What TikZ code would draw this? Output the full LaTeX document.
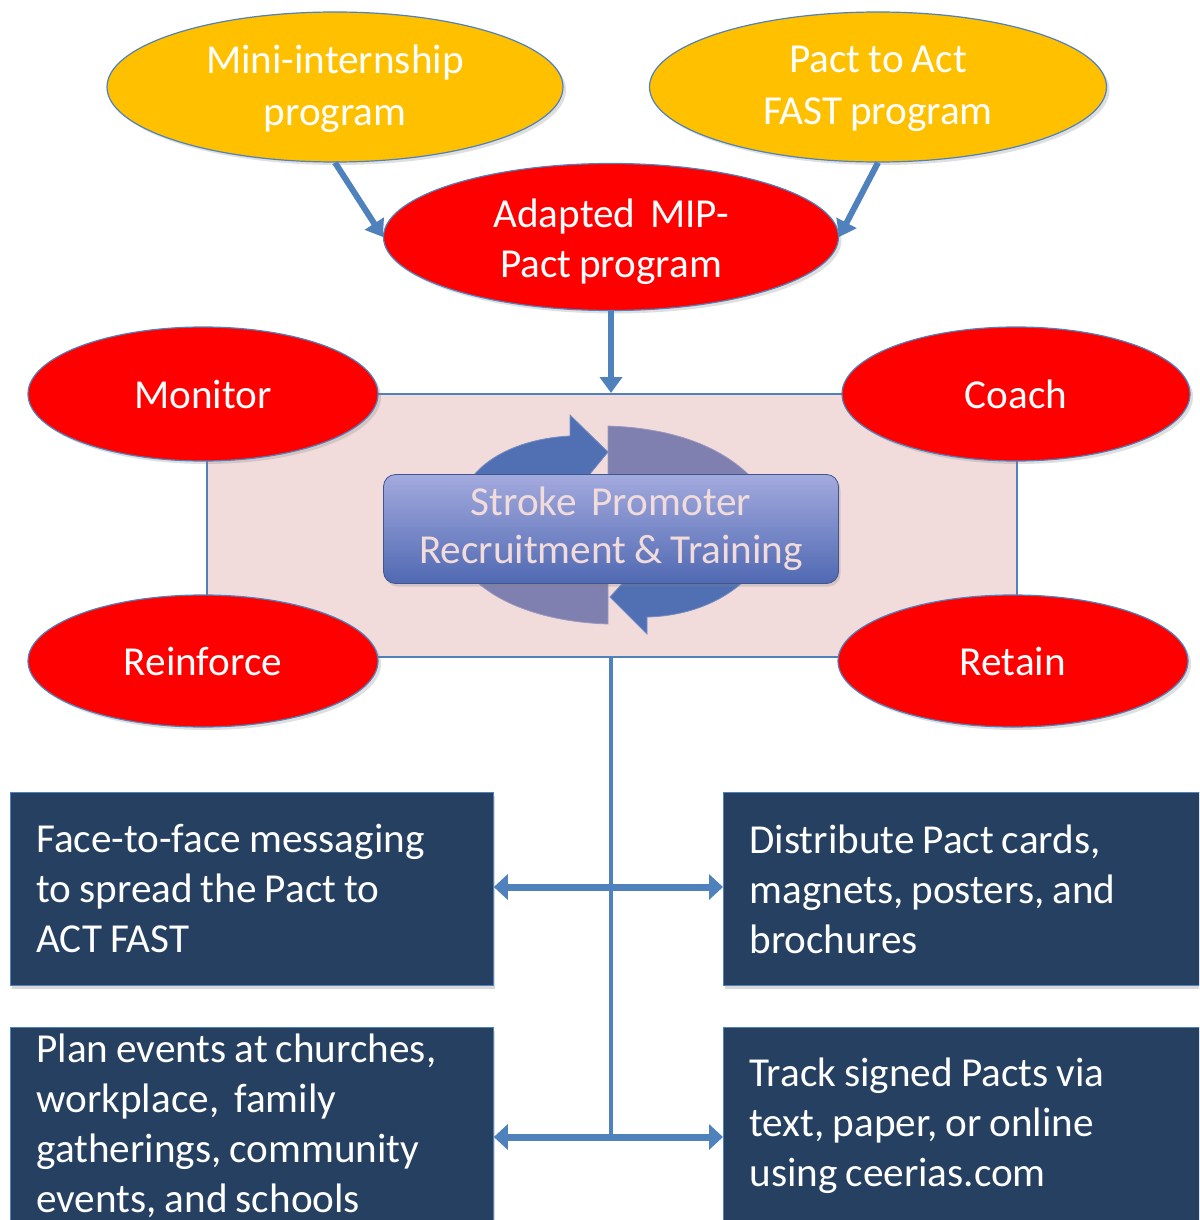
\documentclass[tikz,border=0pt]{standalone}
\usepackage{fontspec}
\setmainfont{Carlito}
\usetikzlibrary{shapes.geometric,arrows.meta,shadows}
\definecolor{gold}{HTML}{FFC000}
\definecolor{redfill}{HTML}{FF0000}
\definecolor{navy}{HTML}{254061}
\definecolor{lineblue}{HTML}{4F81BD}
\definecolor{pinkfill}{HTML}{F2DCDB}
\definecolor{cycblue}{HTML}{5170B4}
\definecolor{cycpurple}{HTML}{8080B0}
\definecolor{srttop}{HTML}{A3AADE}
\definecolor{srtbot}{HTML}{5069B2}
\definecolor{srttext}{HTML}{F2DCDB}
\newcommand\mytightsp{\spaceskip=4pt plus 1pt minus 0.5pt\relax}
\newcommand\myboxfont{\fontsize{20.6pt}{25pt}\selectfont}
\newcommand\myovalfont{\fontsize{20.6pt}{26pt}\selectfont}
\newcommand\mydn[2]{\raisebox{-#1}[\height][\depth]{#2}}
\tikzset{
  tight/.style={execute at begin node={\mytightsp}},
  txt/.style={font=\myboxfont, tight},
  otxt/.style={font=\myovalfont, tight},
  oval/.style={ellipse, draw=lineblue, line width=0.6pt, inner sep=0pt, text=white, otxt, align=center,
     drop shadow={opacity=0.25, shadow xshift=1.5pt, shadow yshift=-1.5pt}},
  yel/.style={oval, fill=gold},
  rd/.style={oval, fill=redfill},
  navybox/.style={rectangle, fill=navy, draw=lineblue, line width=0.4pt, text=white, txt, align=left,
     anchor=north west, inner xsep=13pt, inner ysep=0pt,
     drop shadow={opacity=0.3, shadow xshift=0.8pt, shadow yshift=-2pt}},
  arr/.style={draw=lineblue, line width=3pt, -{Triangle[width=11pt,length=8pt]}},
  darr/.style={draw=lineblue, line width=3.5pt, {Triangle[width=12.5pt,length=7pt]}-{Triangle[width=12.5pt,length=7pt]}},
}
\begin{document}
\begin{tikzpicture}[x=0.5pt,y=-0.5pt]
\useasboundingbox (0,0) rectangle (1199,1220);
\clip (0,0) rectangle (1199,1220);

% central pink area
\node[rectangle, fill=pinkfill, draw=lineblue, line width=1pt, minimum width=405pt, minimum height=131.5pt, inner sep=0pt] (hub) at (612,525.5) {};

% cycle arrows
\fill[cycpurple, draw=cycpurple!80!white, line width=0.4pt] (608,426) .. controls (670,428) and (720,445) .. (752,478) -- (608,478) -- cycle;
\fill[cycblue, draw=cycblue!80!white, line width=0.4pt] (470,480) .. controls (490,452) and (530,438) .. (570,436) -- (570,415) -- (608,452) -- (585,480) -- cycle;
\fill[cycpurple, draw=cycpurple!80!white, line width=0.4pt] (470,575) .. controls (495,603) and (545,622) .. (608,624) -- (608,575) -- cycle;
\fill[cycblue, draw=cycblue!80!white, line width=0.4pt] (750,575) .. controls (727,600) and (690,616) .. (647,617) -- (647,634) -- (610,597) -- (630,575) -- cycle;

% central box
\node[rectangle, rounded corners=6pt, top color=srttop, bottom color=srtbot, draw=srtbot!80!black, line width=0.4pt,
      minimum width=227.5pt, minimum height=54.5pt, text=srttext, txt, align=center, inner sep=0pt,
      drop shadow={opacity=0.25, shadow xshift=1pt, shadow yshift=-1.5pt}] (srt) at (611,529)
      {Stroke\, Promoter\\[-1pt]Recruitment \& Training};

% top ellipses
\node[yel, minimum width=228pt, minimum height=75pt] (mini) at (335,87) {\mydn{1pt}{Mini-internship}\\\mydn{1pt}{program}};
\node[yel, minimum width=228.5pt, minimum height=75pt] (pact) at (878,87) {\mydn{1pt}{Pact to Act}\\\mydn{1pt}{FAST program}};
\node[rd, minimum width=227.5pt, minimum height=73.5pt, font=\myboxfont] (mip) at (611,237) {\mydn{2.5pt}{Adapted\, MIP-}\\\mydn{2.5pt}{Pact program}};

% four red ellipses
\node[rd, minimum width=175pt, minimum height=67pt] (monitor) at (203,394) {Monitor};
\node[rd, minimum width=174pt, minimum height=67pt] (coach) at (1016,394) {Coach};
\node[rd, minimum width=175pt, minimum height=66pt] (reinforce) at (203,661) {Reinforce};
\node[rd, minimum width=175pt, minimum height=66pt] (retain) at (1013,661) {Retain};

% arrows into / out of MIP
\draw[arr] (mini.south) -- (mip.west);
\draw[arr] (pact.south) -- (mip.east);
\draw[arr] (mip.south) -- (mip.south |- hub.north);

% bottom boxes
\node[navybox, text width=215.5pt, minimum height=96.5pt] (b1) at (10,792)
  {Face-to-face messaging\\to spread the Pact to\\ACT FAST};
\node[navybox, text width=219pt, minimum height=96.5pt] (b2) at (723,792)
  {Distribute Pact cards,\\magnets, posters, and\\brochures};
\node[navybox, text width=215.5pt, minimum height=98pt] (b3) at (10,1027)
  {Plan events at churches,\\workplace,\, family\\gatherings, community\\events, and schools};
\node[navybox, text width=219pt, minimum height=98pt] (b4) at (723,1027)
  {Track signed Pacts via\\text, paper, or online\\using ceerias.com};

% trunk and branches
\coordinate (j1) at (611,887);
\coordinate (j2) at (611,1137);
\draw[lineblue, line width=2pt] (hub.south -| mip.south) -- (j2);
\draw[darr] (j1 -| b1.east) -- (j1 -| b2.west);
\draw[darr] (j2 -| b3.east) -- (j2 -| b4.west);
\end{tikzpicture}
\end{document}
